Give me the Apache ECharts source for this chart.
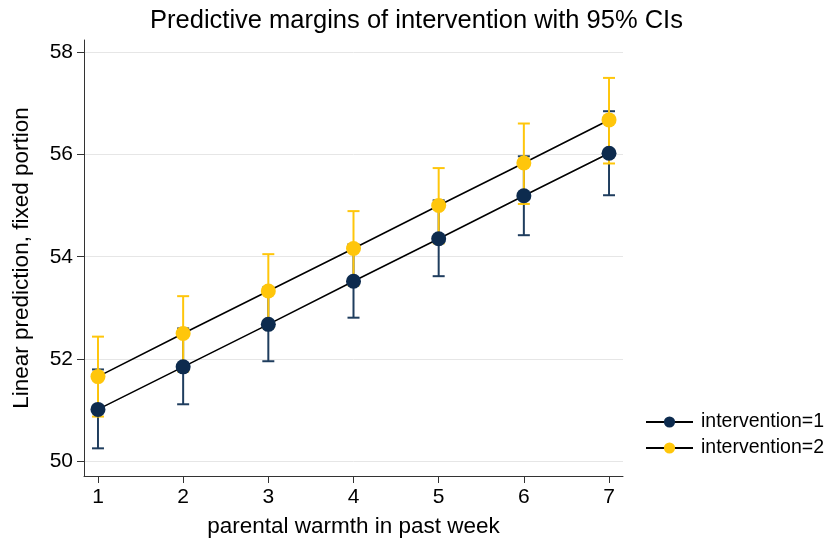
<!DOCTYPE html>
<html>
<head>
<meta charset="utf-8">
<script src="https://cdn.jsdelivr.net/npm/echarts@6/dist/echarts.min.js"></script>
<style>html,body{margin:0;padding:0;background:#fff}#c{width:833px;height:543px}</style>
</head>
<body>
<div id="c"></div>
<script>
var xVals = [1, 2, 3, 4, 5, 6, 7];
var xTicks = [1, 2, 3, 4, 5, 6, 7];
var yTicks = [50, 52, 54, 56, 58];
var int1 = [51.02, 51.85, 52.68, 53.52, 54.35, 55.19, 56.02];
var int1Lo = [50.26, 51.12, 51.96, 52.81, 53.62, 54.42, 55.20];
var int1Hi = [51.80, 52.60, 53.40, 54.24, 55.10, 55.96, 56.84];
var int2 = [51.66, 52.50, 53.33, 54.16, 55.00, 55.83, 56.67];
var int2Lo = [50.88, 51.76, 52.61, 53.44, 54.26, 55.03, 55.82];
var int2Hi = [52.44, 53.23, 54.05, 54.89, 55.73, 56.60, 57.49];
var names = ['intervention=1', 'intervention=2'];

var navy = '#0d2b4e', navyBar = '#1f3d5e', gold = '#ffc60b';
var FONT = 'Liberation Sans, Arial, sans-serif';

function ciData(lo, hi) {
  return xVals.map(function (x, i) { return [x, lo[i], hi[i]]; });
}
function ptData(v) {
  return xVals.map(function (x, i) { return [x, v[i]]; });
}
function ciSeries(lo, hi, color) {
  return {
    type: 'custom',
    silent: true,
    z: 2,
    data: ciData(lo, hi),
    renderItem: function (params, api) {
      var x = api.value(0);
      var p1 = api.coord([x, api.value(1)]);
      var p2 = api.coord([x, api.value(2)]);
      var w = 6;
      var st = { stroke: color, lineWidth: 2 };
      return {
        type: 'group',
        children: [
          { type: 'line', shape: { x1: p1[0], y1: p1[1], x2: p2[0], y2: p2[1] }, style: st },
          { type: 'line', shape: { x1: p1[0] - w, y1: p1[1], x2: p1[0] + w, y2: p1[1] }, style: st },
          { type: 'line', shape: { x1: p2[0] - w, y1: p2[1], x2: p2[0] + w, y2: p2[1] }, style: st }
        ]
      };
    }
  };
}

var chart = echarts.init(document.getElementById('c'), null, { renderer: 'canvas' });
chart.setOption({
  animation: false,
  backgroundColor: '#fff',
  textStyle: { fontFamily: FONT },
  title: {
    text: 'Predictive margins of intervention with 95% CIs',
    left: 'center',
    top: 3,
    textStyle: { fontFamily: FONT, fontSize: 25.5, fontWeight: 'normal', color: '#000' }
  },
  legend: {
    orient: 'vertical',
    left: 640,
    top: 407,
    itemGap: 6,
    itemWidth: 47,
    itemHeight: 14,
    data: names,
    textStyle: { fontFamily: FONT, fontSize: 19.5, color: '#000', padding: [0, 0, 0, 3] }
  },
  grid: { left: 84, right: 210, top: 40, bottom: 66, containLabel: false },
  xAxis: {
    type: 'value',
    min: 0.836,
    max: 7.164,
    name: 'parental warmth in past week',
    nameLocation: 'middle',
    nameGap: 39,
    nameTextStyle: { fontFamily: FONT, fontSize: 22.5, color: '#000' },
    axisLine: { show: true, onZero: false, lineStyle: { color: '#333', width: 1 } },
    axisTick: { show: true, length: 7, customValues: xTicks, lineStyle: { color: '#333' } },
    axisLabel: { customValues: xTicks, fontSize: 21, color: '#000', margin: 11, fontFamily: FONT },
    splitLine: { show: false }
  },
  yAxis: {
    type: 'value',
    min: 49.72,
    max: 58.23,
    name: 'Linear prediction, fixed portion',
    nameLocation: 'middle',
    nameGap: 51,
    nameTextStyle: { fontFamily: FONT, fontSize: 22.5, color: '#000' },
    axisLine: { show: true, onZero: false, lineStyle: { color: '#333', width: 1 } },
    axisTick: { show: true, length: 7, customValues: yTicks, lineStyle: { color: '#333' } },
    axisLabel: { customValues: yTicks, fontSize: 21, color: '#000', margin: 11, fontFamily: FONT },
    splitLine: { show: true, lineStyle: { color: '#e6e6e6', width: 1 } }
  },
  series: [
    ciSeries(int1Lo, int1Hi, navyBar),
    ciSeries(int2Lo, int2Hi, gold),
    {
      name: names[0], type: 'line', z: 3, data: ptData(int1),
      symbol: 'circle', symbolSize: 15,
      lineStyle: { color: '#000', width: 1.6 },
      itemStyle: { color: navy, borderWidth: 0 }
    },
    {
      name: names[1], type: 'line', z: 4, data: ptData(int2),
      symbol: 'circle', symbolSize: 15,
      lineStyle: { color: '#000', width: 1.6 },
      itemStyle: { color: gold, borderWidth: 0 }
    }
  ]
});
</script>
</body>
</html>
